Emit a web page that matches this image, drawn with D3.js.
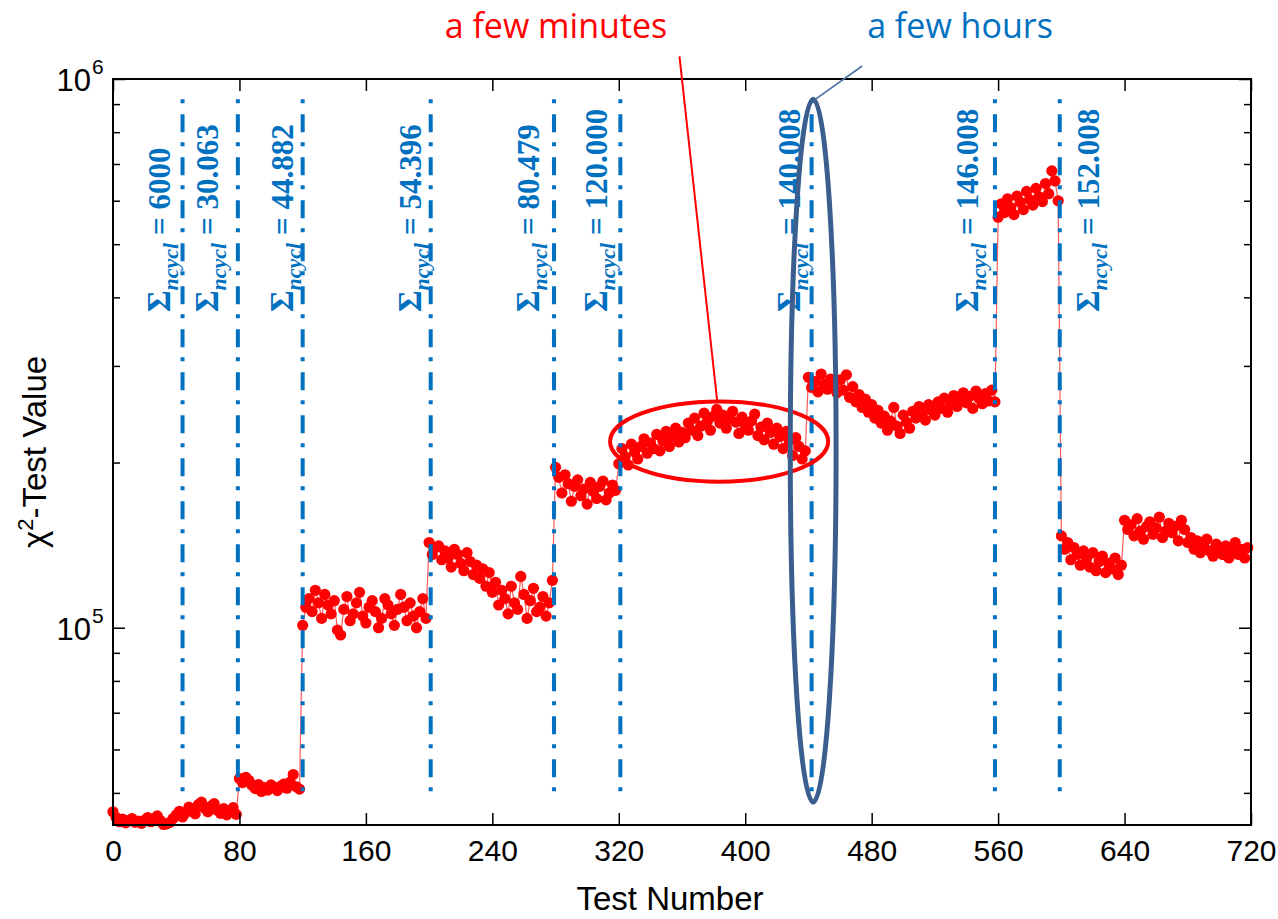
<!DOCTYPE html>
<html><head><meta charset="utf-8">
<script src="https://cdn.jsdelivr.net/npm/d3@7"></script>
<style>body{margin:0;background:#fff}svg{display:block}</style>
</head><body>
<svg id="c" width="1278" height="919"></svg>
<script>
// ---- data (values in thousands) ----
const xTicks = [0, 80, 160, 240, 320, 400, 480, 560, 640, 720];
const segStart = [0, 80, 120, 200, 280, 320, 440, 560, 600, 640];
const s1 = [46.2,45.1,44.3,44.8,44.1,44.5,44.9,44.2,44.4,44.0,44.6,45.1,44.3,44.7,45.4,44.5,43.8,43.9,44.2,44.9,45.6,46.3,45.2,46.0,47.1,46.4,45.8,47.6,48.1,46.9,46.2,47.3,47.8,46.5,45.9,46.8,45.6,46.3,47.0,45.7];
const s2 = [53.1,52.2,53.4,52.7,51.6,50.9,51.8,50.3,51.1,50.6,51.7,51.2,50.5,51.4,51.9,51.0,52.3,54.0,51.3,50.8];
const s3 = [101,109,113,107,117,111,104,115,110,106,112,99,97,108,114,103,106,111,116,105,102,109,112,107,100,104,113,110,106,101,108,115,109,103,111,105,100,107,113,104];
const s4 = [143,136,140,141,133,138,134,129,139,136,131,127,137,132,125,130,123,128,119,126,116,121,110,117,113,106,119,111,108,124,115,104,112,118,107,109,114,105,111,122];
const s5 = [196,188,176,190,183,170,181,186,174,179,168,184,177,172,181,185,171,176,182,178];
const s6 = [199,212,205,198,216,209,203,214,221,208,217,212,225,210,219,228,214,223,231,218,227,222,236,229,241,224,233,246,238,229,243,250,236,244,231,240,248,237,226,242,234,229,238,245,224,232,220,236,227,216,231,223,212,228,219,206,222,214,203,210];
const s7 = [286,274,281,269,290,278,272,284,276,268,283,271,289,263,275,258,266,252,261,247,255,241,249,236,243,229,238,252,233,226,244,237,231,248,241,253,246,239,255,249,244,258,251,262,247,256,265,253,260,268,257,264,251,270,262,256,267,259,271,258];
const s8 = [560,592,571,605,583,566,612,596,578,624,603,589,632,610,598,645,618,680,652,600];
const s9 = [147,139,143,133,140,136,130,138,134,129,137,127,132,135,126,131,128,134,125,130];
const s10 = [157,151,154,147,158,150,145,153,156,148,152,159,146,150,155,149,153,144,157,151,143,146,139,144,137,141,145,138,135,142,139,136,141,134,138,143,136,139,134,140];
const segments = [s1, s2, s3, s4, s5, s6, s7, s8, s9, s10];
const cycleLineX = [44, 79, 120, 201, 279, 321, 442, 558, 599];
const cycleLabels = ["6000", "30.063", "44.882", "54.396", "80.479", "120.000", "140.008", "146.008", "152.008"];
const yMajor = [1e5, 1e6];
const yMinor = [5e4,6e4,7e4,8e4,9e4,2e5,3e5,4e5,5e5,6e5,7e5,8e5,9e5];

// ---- build points ----
const points = [];
segments.forEach((seg, k) => seg.forEach((v, i) => points.push({x: segStart[k] + 2 * i, y: v * 1000})));

const svg = d3.select("#c");
const L = 113, R = 1251, T = 79, B = 825;
const x = d3.scaleLinear().domain([0, 720]).range([L, R]);
const y = d3.scaleLog().domain([43700, 1e6]).range([B, T]);

const BLUE = "#0070c0";
const SANS = "'Liberation Sans', Arial, sans-serif";

// data line + markers
svg.append("path").datum(points)
  .attr("d", d3.line().x(d => x(d.x)).y(d => y(d.y)))
  .attr("fill", "none").attr("stroke", "#ff5a5a").attr("stroke-width", 1.2);
svg.append("g").selectAll("circle").data(points).join("circle")
  .attr("cx", d => x(d.x)).attr("cy", d => y(d.y)).attr("r", 5.6).attr("fill", "#ff0000");

// dash-dot cycle lines
svg.append("g").selectAll("line").data(cycleLineX).join("line")
  .attr("x1", d => x(d)).attr("x2", d => x(d))
  .attr("y1", y(9.19e5)).attr("y2", y(5.0e4))
  .attr("stroke", BLUE).attr("stroke-width", 4)
  .attr("stroke-dasharray", "4,11,18,10");

// cycle labels (rotated)
const labelOffset = [-13, -20, -10, -10, -15, -13, -12, -17, 39];
cycleLabels.forEach((lab, i) => {
  const t = svg.append("text")
    .attr("transform", `translate(${x(cycleLineX[i]) + labelOffset[i]},312) rotate(-90)`)
    .attr("font-family", "'Liberation Serif', 'Times New Roman', serif")
    .attr("font-weight", "bold").attr("font-size", 31).attr("fill", BLUE);
  t.append("tspan").attr("font-size", 33).text("Σ");
  t.append("tspan").attr("font-style", "italic").attr("font-size", 22).attr("dy", 8).text("ncycl");
  t.append("tspan").attr("dy", -8).text(" = " + lab);
});

// frame
svg.append("rect").attr("x", L).attr("y", T).attr("width", R - L).attr("height", B - T)
  .attr("fill", "none").attr("stroke", "#000").attr("stroke-width", 2);

// axes ticks
function styleAxis(g) { g.select(".domain").remove(); g.selectAll(".tick line").attr("stroke", "#000").attr("stroke-width", 1.5); }
svg.append("g").attr("transform", `translate(0,${B})`)
  .call(d3.axisBottom(x).tickValues(xTicks).tickSize(-12).tickPadding(15))
  .call(styleAxis)
  .call(g => g.selectAll("text").attr("font-family", SANS).attr("font-size", 30).attr("fill", "#000"));
svg.append("g").attr("transform", `translate(0,${T})`)
  .call(d3.axisTop(x).tickValues(xTicks).tickSize(-12).tickFormat(""))
  .call(styleAxis);
svg.append("g").attr("transform", `translate(${L},0)`)
  .call(d3.axisLeft(y).tickValues(yMajor).tickSize(-12).tickFormat("")).call(styleAxis);
svg.append("g").attr("transform", `translate(${L},0)`)
  .call(d3.axisLeft(y).tickValues(yMinor).tickSize(-7).tickFormat("")).call(styleAxis);
svg.append("g").attr("transform", `translate(${R},0)`)
  .call(d3.axisRight(y).tickValues(yMajor).tickSize(-12).tickFormat("")).call(styleAxis);
svg.append("g").attr("transform", `translate(${R},0)`)
  .call(d3.axisRight(y).tickValues(yMinor).tickSize(-7).tickFormat("")).call(styleAxis);

// y tick labels 10^n
yMajor.forEach(v => {
  const yy = y(v);
  svg.append("text").attr("x", 91).attr("y", yy + 12).attr("text-anchor", "end")
    .attr("font-family", SANS).attr("font-size", 31).text("10");
  svg.append("text").attr("x", 92).attr("y", yy - 5)
    .attr("font-family", SANS).attr("font-size", 21).text(Math.round(Math.log10(v)));
});

// axis titles
svg.append("text").attr("x", 670).attr("y", 910).attr("text-anchor", "middle")
  .attr("font-family", SANS).attr("font-size", 33).text("Test Number");
const yt = svg.append("text").attr("transform", `translate(46,452) rotate(-90)`)
  .attr("text-anchor", "middle").attr("font-family", SANS).attr("font-size", 33);
yt.append("tspan").text("χ");
yt.append("tspan").attr("font-size", 22).attr("dy", -13).text("2");
yt.append("tspan").attr("dy", 13).text("-Test Value");

// annotations
const redE = {cx: 383.5, half: 69, top: 258400, bot: 184600};
svg.append("ellipse")
  .attr("cx", x(redE.cx)).attr("cy", (y(redE.top) + y(redE.bot)) / 2)
  .attr("rx", x(redE.cx + redE.half) - x(redE.cx)).attr("ry", (y(redE.bot) - y(redE.top)) / 2)
  .attr("fill", "none").attr("stroke", "#ff0000").attr("stroke-width", 4);
const blueE = {cx: 443, half: 14.5, top: 919000, bot: 48100};
svg.append("ellipse")
  .attr("cx", x(blueE.cx)).attr("cy", (y(blueE.top) + y(blueE.bot)) / 2)
  .attr("rx", x(blueE.cx + blueE.half) - x(blueE.cx)).attr("ry", (y(blueE.bot) - y(blueE.top)) / 2)
  .attr("fill", "none").attr("stroke", "#3a5f8f").attr("stroke-width", 5);

svg.append("line").attr("x1", x(358.4)).attr("y1", y(1.10e6)).attr("x2", x(382.3)).attr("y2", y(258400))
  .attr("stroke", "#ff0000").attr("stroke-width", 2);
svg.append("line").attr("x1", x(474)).attr("y1", y(1.056e6)).attr("x2", x(444.5)).attr("y2", y(919000))
  .attr("stroke", "#4a70a4").attr("stroke-width", 1.6);

svg.append("text").attr("x", 556).attr("y", 38).attr("text-anchor", "middle")
  .attr("font-family", "'Open Sans', sans-serif").attr("font-size", 34).attr("fill", "#ff0000").text("a few minutes");
svg.append("text").attr("x", 960).attr("y", 38).attr("text-anchor", "middle")
  .attr("font-family", "'Open Sans', sans-serif").attr("font-size", 34).attr("fill", BLUE).text("a few hours");
</script>
</body></html>
